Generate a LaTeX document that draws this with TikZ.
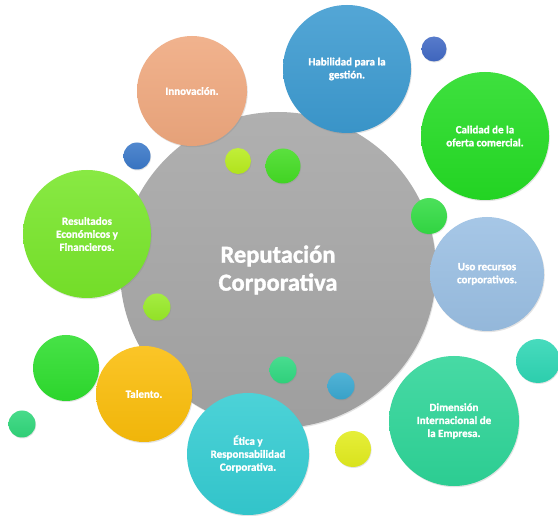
\documentclass[tikz,border=0pt]{standalone}
\usepackage{fontspec}
\setmainfont{Carlito}[BoldFont={Carlito Bold},BoldFeatures={FakeBold=1.3}]
\usetikzlibrary{shadows}
\definecolor{cgray}{HTML}{A5A5A5}
\definecolor{cinno}{HTML}{EFA87E}
\definecolor{chab}{HTML}{3C9AD0}
\definecolor{ccal}{HTML}{24DC24}
\definecolor{cuso}{HTML}{9ABFE3}
\definecolor{cdim}{HTML}{2ED598}
\definecolor{ceti}{HTML}{34CCD2}
\definecolor{ctal}{HTML}{FABD0A}
\definecolor{cres}{HTML}{78E62A}
\definecolor{cdA}{HTML}{4169C4}
\definecolor{cdB}{HTML}{33DC44}
\definecolor{cdC}{HTML}{2ED6B4}
\definecolor{cdD}{HTML}{E2EC1E}
\definecolor{cdE}{HTML}{3AA8D0}
\definecolor{cdF}{HTML}{30D880}
\definecolor{cdG}{HTML}{2EDE2E}
\definecolor{cdH}{HTML}{30D67A}
\definecolor{cdI}{HTML}{98EA28}
\definecolor{cdJ}{HTML}{3A78C8}
\definecolor{cdK}{HTML}{B8EC1E}
\definecolor{cdL}{HTML}{44DC24}
\begin{document}
\begin{tikzpicture}[x=1pt,y=-1pt,
  bub/.style={circle, inner sep=0pt, minimum size=#1, align=center,
    text=white, font=\bfseries\fontsize{11}{13}\selectfont,
    drop shadow={shadow xshift=0.8pt, shadow yshift=-1.2pt, opacity=0.22}},
  dot/.style={circle, inner sep=0pt, minimum size=#1,
    drop shadow={shadow xshift=0.6pt, shadow yshift=-1pt, opacity=0.22}},
  col/.style={top color=#1!88!white, bottom color=#1!96!black, draw=none}
]
\useasboundingbox (0,0) rectangle (558,516);
\fill[white] (0,0) rectangle (558,516);

% central circle
\node[bub=316pt, col=cgray, font=\bfseries\fontsize{24.5}{28}\selectfont]
  (core) at (278,270) {Reputación\\Corporativa};

% satellites
\node[bub=110pt, col=cinno] (inno) at (192,91) {Innovación.};
\node[bub=128pt, col=chab] (hab) at (347,69) {Habilidad para la\\gestión.};
\node[bub=128pt, col=ccal] (cal) at (485,136) {Calidad de la\\oferta comercial.};
\node[bub=114pt, col=cuso] (uso) at (487,274) {Uso recursos\\corporativos.};
\node[bub=130pt, col=cdim] (dim) at (454,421) {Dimensión\\Internacional de\\la Empresa.};
\node[bub=122pt, col=ceti] (eti) at (248,454) {Ética y\\Responsabilidad\\Corporativa.};
\node[bub=96pt, col=ctal] (tal) at (144,394) {Talento.};
\node[bub=128pt, col=cres] (res) at (87,234) {Resultados\\Económicos y\\Financieros.};

% small dots
\node[dot=25pt, col=cdA] (d1) at (434,49) {};
\node[dot=36pt, col=cdB] (d2) at (429,216) {};
\node[dot=44pt, col=cdC] (d3) at (538,361) {};
\node[dot=36pt, col=cdD] (d4) at (353,449) {};
\node[dot=27pt, col=cdE] (d5) at (341,386) {};
\node[dot=27pt, col=cdF] (d6) at (283,370) {};
\node[dot=66pt, col=cdG] (d7) at (66,368) {};
\node[dot=27pt, col=cdH] (d8) at (22,424) {};
\node[dot=27pt, col=cdI] (d9) at (157,307) {};
\node[dot=27pt, col=cdJ] (d10) at (137,156) {};
\node[dot=26pt, col=cdK] (d11) at (238,161) {};
\node[dot=35pt, col=cdL] (d12) at (283,166) {};
\end{tikzpicture}
\end{document}
